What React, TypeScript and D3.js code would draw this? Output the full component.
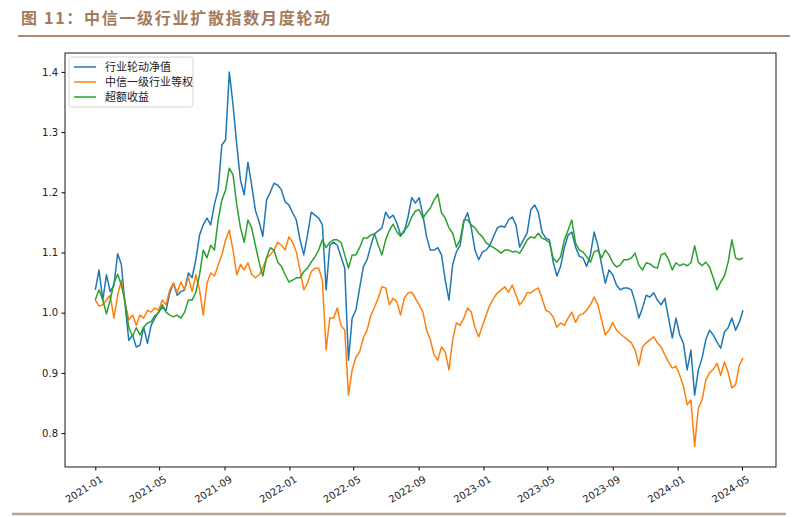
import React from "react";
import * as d3 from "d3";

// weekly closes, starting 2021-01-01
const startDate = new Date(2021, 0, 1);
const seriesNames = ["行业轮动净值", "中信一级行业等权", "超额收益"];
const seriesColors = ["#1f77b4", "#ff7f0e", "#2ca02c"];

const rotation = [
  1.038, 1.071, 1.021, 1.063, 1.035, 1.046, 1.098, 1.08, 1.013, 0.954,
  0.963, 0.943, 0.946, 0.976, 0.949, 0.979, 0.991, 1.001, 1.009, 1.004,
  1.033, 1.049, 1.029, 1.035, 1.038, 1.066, 1.058, 1.088, 1.129, 1.146,
  1.157, 1.146, 1.18, 1.204, 1.279, 1.287, 1.4, 1.345, 1.279, 1.22,
  1.196, 1.25, 1.212, 1.17, 1.151, 1.127, 1.187, 1.2, 1.215, 1.212,
  1.204, 1.184, 1.179, 1.166, 1.154, 1.121, 1.096, 1.129, 1.167, 1.162,
  1.157, 1.146, 1.038, 1.112, 1.117, 1.112, 1.093, 1.074, 0.921, 0.991,
  1.004, 1.041, 1.076, 1.088, 1.111, 1.131, 1.136, 1.141, 1.167, 1.157,
  1.162, 1.149, 1.129, 1.134, 1.159, 1.191, 1.182, 1.191, 1.162, 1.126,
  1.104, 1.104, 1.108, 1.096, 1.054, 1.021, 1.08, 1.101, 1.112, 1.151,
  1.166, 1.141, 1.104, 1.088, 1.101, 1.104, 1.112, 1.127, 1.141, 1.144,
  1.142, 1.154, 1.159, 1.146, 1.109, 1.121, 1.132, 1.171, 1.179, 1.167,
  1.134, 1.124, 1.121, 1.084, 1.061, 1.077, 1.108, 1.129, 1.134, 1.109,
  1.094, 1.091, 1.077, 1.096, 1.134, 1.112, 1.08, 1.049, 1.071, 1.063,
  1.046, 1.038, 1.041, 1.041, 1.038, 1.018, 0.991, 1.008, 1.029, 1.026,
  1.033, 1.021, 1.013, 1.024, 0.991, 0.958, 0.991, 0.963, 0.949, 0.905,
  0.938, 0.863, 0.905, 0.925, 0.955, 0.971, 0.963, 0.951, 0.941, 0.968,
  0.975, 0.991, 0.971, 0.984, 1.004,
];

const equalWeight = [
  1.021, 1.011, 1.013, 1.021, 1.029, 0.991, 1.029, 1.054, 1.016, 0.988,
  0.996, 0.979, 0.996, 0.991, 1.004, 1.001, 1.008, 1.004, 1.021, 1.013,
  1.038, 1.049, 1.033, 1.051, 1.038, 1.059, 1.035, 1.063, 1.038, 0.996,
  1.049, 1.066, 1.061, 1.079, 1.096, 1.121, 1.137, 1.104, 1.063, 1.08,
  1.071, 1.083, 1.064, 1.058, 1.063, 1.074, 1.091, 1.096, 1.104, 1.117,
  1.112, 1.104, 1.126, 1.117, 1.101, 1.071, 1.038, 1.049, 1.068, 1.074,
  1.074, 1.054, 0.938, 0.991, 0.991, 1.008, 0.979, 0.971, 0.863, 0.905,
  0.926, 0.935, 0.958, 0.971, 0.995, 1.009, 1.024, 1.043, 1.041, 1.013,
  1.024, 1.018, 0.996, 1.024, 1.033, 1.034, 1.024, 1.013, 1.001, 0.971,
  0.955, 0.93, 0.921, 0.943, 0.935, 0.905, 0.955, 0.983, 0.979, 0.991,
  1.008, 1.001, 0.975, 0.96, 0.978, 0.996, 1.013, 1.024, 1.033, 1.038,
  1.043, 1.034, 1.046, 1.029, 1.013, 1.021, 1.033, 1.033, 1.038, 1.041,
  1.024, 1.004, 1.001, 0.993, 0.976, 0.983, 0.979, 0.991, 1.001, 0.984,
  0.996, 0.998, 1.004, 1.013, 1.026, 1.013, 0.988, 0.963, 0.971, 0.984,
  0.971, 0.965, 0.96, 0.955, 0.95, 0.938, 0.913, 0.943, 0.95, 0.955,
  0.96, 0.95, 0.943, 0.93, 0.918, 0.908, 0.911, 0.896, 0.878, 0.847,
  0.855, 0.778, 0.842, 0.855, 0.888, 0.9, 0.906, 0.916, 0.896, 0.918,
  0.901, 0.875, 0.88, 0.913, 0.925,
];

const excess = [
  1.021, 1.038, 1.021, 0.998, 1.021, 1.049, 1.064, 1.046, 1.018, 0.975,
  0.961, 0.975, 0.963, 0.976, 0.983, 0.985, 0.995, 1.0, 1.013, 1.001,
  0.996, 0.993, 0.996, 0.991, 1.001, 1.021, 1.021, 1.034, 1.063, 1.104,
  1.091, 1.112, 1.104, 1.154, 1.187, 1.204, 1.24, 1.229, 1.179, 1.141,
  1.117, 1.154, 1.141, 1.112, 1.084, 1.061, 1.091, 1.108, 1.104, 1.084,
  1.077, 1.063, 1.051, 1.054, 1.058, 1.058, 1.068, 1.074, 1.084, 1.093,
  1.104, 1.121, 1.108, 1.117, 1.121, 1.121, 1.117, 1.096, 1.074, 1.096,
  1.096, 1.108, 1.124, 1.124, 1.129, 1.131, 1.112, 1.096, 1.121, 1.137,
  1.147, 1.134, 1.127, 1.137, 1.144, 1.159, 1.169, 1.171, 1.157, 1.166,
  1.174, 1.187, 1.197, 1.166, 1.157, 1.141, 1.132, 1.109, 1.121, 1.154,
  1.154, 1.146, 1.141, 1.132, 1.126, 1.116, 1.112, 1.108, 1.104, 1.099,
  1.104, 1.104, 1.101, 1.102, 1.099, 1.109, 1.121, 1.126, 1.124, 1.132,
  1.124, 1.121, 1.117, 1.091, 1.084, 1.093, 1.121, 1.137, 1.154, 1.116,
  1.104, 1.101, 1.093, 1.084, 1.101, 1.104, 1.091, 1.104, 1.096, 1.083,
  1.076, 1.079, 1.088, 1.088, 1.091, 1.099, 1.079, 1.071, 1.083, 1.081,
  1.076, 1.074, 1.096, 1.099, 1.088, 1.071, 1.083, 1.078, 1.081, 1.078,
  1.083, 1.111, 1.084, 1.078, 1.084, 1.076, 1.058, 1.038, 1.051, 1.061,
  1.084, 1.121, 1.091, 1.088, 1.091,
];

const yTicks = [0.8, 0.9, 1.0, 1.1, 1.2, 1.3, 1.4];

export default function App() {
  const ref = React.useRef<SVGSVGElement>(null);

  React.useEffect(() => {
    drawChart();
  }, []);

  function drawChart() {
    const svg = d3.select(ref.current);
    svg.selectAll("*").remove();

    const margin = { top: 53, bottom: 50, left: 65, right: 26 };
    const W = 802;
    const H = 517;
    const width = W - margin.left - margin.right;
    const height = H - margin.top - margin.bottom;

    // title and the two brown rules
    svg.append("text")
      .attr("x", 21)
      .attr("y", 24)
      .attr("fill", "#a47b5b")
      .attr("font-family", "'Noto Sans CJK SC', sans-serif")
      .attr("font-weight", "bold")
      .attr("font-size", 16)
      .attr("letter-spacing", 1.7)
      .text("图 11：中信一级行业扩散指数月度轮动");
    svg.append("line")
      .attr("x1", 18).attr("x2", 790)
      .attr("y1", 36).attr("y2", 36)
      .attr("stroke", "#b08c6e").attr("stroke-width", 2);
    svg.append("line")
      .attr("x1", 12).attr("x2", 786)
      .attr("y1", 514).attr("y2", 514)
      .attr("stroke", "#bca28e").attr("stroke-width", 2.5);

    const dates = rotation.map((d, i) => d3.timeDay.offset(startDate, i * 7));
    const series = [rotation, equalWeight, excess];

    const x = d3
      .scaleTime()
      .domain([d3.timeDay.offset(startDate, -57), d3.timeDay.offset(startDate, 1280)])
      .range([0, width]);
    const y = d3.scaleLinear().domain([0.7437, 1.4314]).range([height, 0]);

    const g = svg.append("g")
      .attr("transform", `translate(${margin.left},${margin.top})`);

    // lines
    series.forEach((vals, k) => {
      g.append("path")
        .datum(vals)
        .attr("fill", "none")
        .attr("stroke", seriesColors[k])
        .attr("stroke-width", 1.5)
        .attr("stroke-linejoin", "round")
        .attr(
          "d",
          d3.line<number>()
            .x((d, i) => x(dates[i]))
            .y((d) => y(d))
        );
    });

    // x axis
    const xTicks = d3.timeMonth.every(4)!.range(new Date(2021, 0, 1), new Date(2024, 5, 2));
    const xAxis = g.append("g")
      .attr("transform", `translate(0,${height})`)
      .call(
        d3.axisBottom(x)
          .tickValues(xTicks)
          .tickFormat((d) => d3.timeFormat("%Y-%m")(d as Date))
          .tickSize(3.5)
          .tickSizeOuter(0)
      );
    xAxis.select(".domain").remove();
    xAxis.selectAll("text")
      .attr("font-family", "'DejaVu Sans', sans-serif")
      .attr("font-size", 10)
      .attr("fill", "#222")
      .attr("text-anchor", "end")
      .attr("dy", null)
      .attr("y", 0)
      .attr("transform", "translate(4,8) rotate(-32)")
      .attr("dominant-baseline", "hanging");

    // y axis
    const yAxis = g.append("g").call(
      d3.axisLeft(y)
        .tickValues(yTicks)
        .tickFormat(d3.format(".1f"))
        .tickSize(3.5)
        .tickSizeOuter(0)
    );
    yAxis.select(".domain").remove();
    yAxis.selectAll("text")
      .attr("font-family", "'DejaVu Sans', sans-serif")
      .attr("font-size", 10)
      .attr("fill", "#222")
      .attr("x", -7);

    // frame
    g.append("rect")
      .attr("width", width)
      .attr("height", height)
      .attr("fill", "none")
      .attr("stroke", "#000")
      .attr("stroke-width", 0.9);

    // legend
    const legend = g.append("g").attr("transform", "translate(4,4)");
    legend.append("rect")
      .attr("width", 124)
      .attr("height", 50)
      .attr("rx", 2.5)
      .attr("fill", "#fff")
      .attr("fill-opacity", 0.8)
      .attr("stroke", "#d6d6d6");
    seriesNames.forEach((name, k) => {
      const ly = 10 + k * 15;
      legend.append("line")
        .attr("x1", 5).attr("x2", 27)
        .attr("y1", ly).attr("y2", ly)
        .attr("stroke", seriesColors[k])
        .attr("stroke-width", 1.5);
      legend.append("text")
        .attr("x", 36)
        .attr("y", ly)
        .attr("dy", "0.35em")
        .attr("font-family", "'Noto Sans CJK SC', sans-serif")
        .attr("font-size", 11)
        .attr("fill", "#222")
        .text(name);
    });
  }

  return (
    <svg
      ref={ref}
      width={802}
      height={517}
      style={{ position: "absolute", left: 0, top: 0, background: "#fff" }}
    />
  );
}
